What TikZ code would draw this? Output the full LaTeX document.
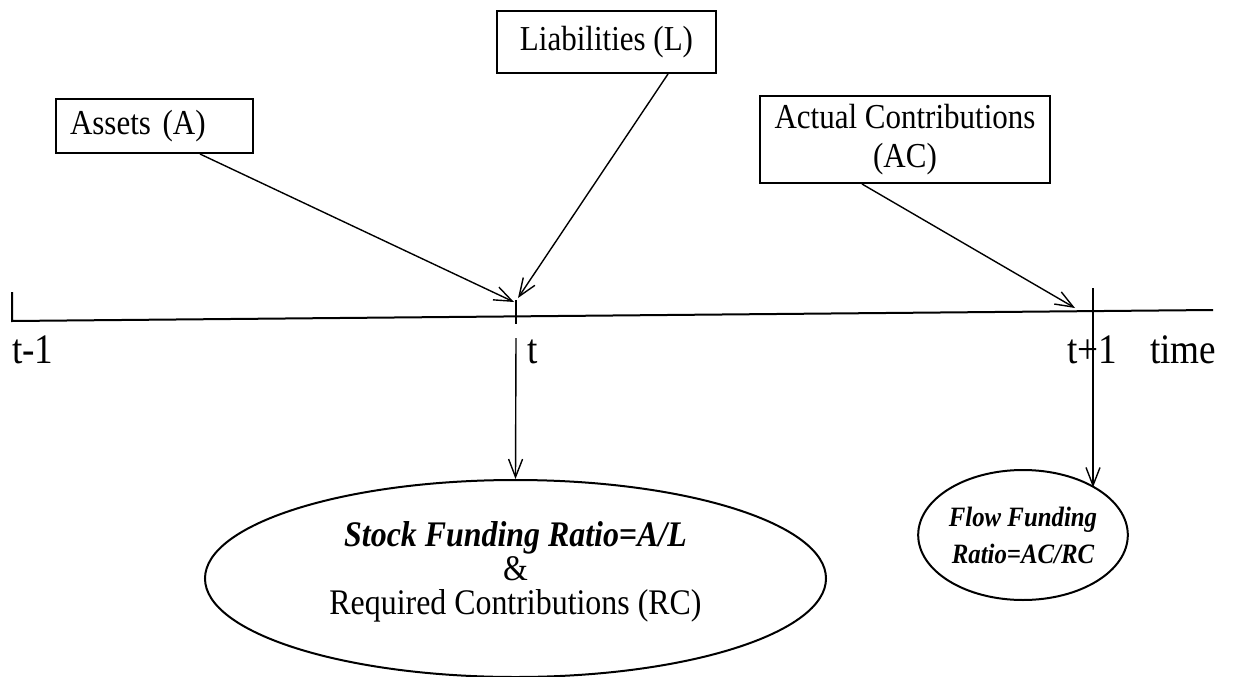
\documentclass[tikz,border=0pt]{standalone}
\usepackage{fontspec}
\setmainfont{Liberation Serif}[FakeStretch=0.886]
\usetikzlibrary{shapes.geometric,arrows.meta}
\begin{document}
\begin{tikzpicture}[x=1pt,y=-1pt,
  txt/.style={font=\fontsize{35}{39}\selectfont},
  box/.style={txt, draw, line width=2pt, inner sep=0pt, align=center},
  oval/.style={draw, ellipse, line width=2pt, inner sep=0pt, align=center},
  axisline/.style={line width=2pt},
  conn/.style={line width=1.4pt, -{Straight Barb[length=18pt,width=14pt,line width=1.4pt]}},
  lab/.style={font=\fontsize{42}{44}\selectfont, inner sep=0pt, anchor=base west}]
\useasboundingbox (0,0) rectangle (1242,677);
% boxes
\node[box, minimum width=197pt, minimum height=54pt, text width=169pt, inner xsep=14pt, align=left] (assets) at (154.5,126) {Assets (A)};
\node[box, minimum width=219pt, minimum height=62pt] (liab) at (606.5,42) {Liabilities (L)};
\node[box, minimum width=290pt, minimum height=87pt] (actual) at (905,139.5) {Actual Contributions\\(AC)};
% timeline
\coordinate (a0) at (12,321);
\coordinate (a1) at (1213,310);
\coordinate (l0) at (12,292);
\coordinate (tt) at (516,300);
\coordinate (tb) at (516,324);
\coordinate (t1top) at (1093,288);
\draw[axisline] (l0) -- (a0) -- (a1);
\draw[line width=1.5pt] (tt) -- (tb);
% labels
\node[lab] (lm1) at (12,363) {t-1};
\node[lab] (lt) at (527,363) {t};
\node[lab] (lt1) at (1067,363) {t+1};
\node[lab] (ltime) at (1150,363) {time};
% ellipses
\node[oval, minimum width=621pt, minimum height=197pt, text depth=20pt, font=\fontsize{36}{34}\selectfont] (stock) at (515.5,578.5)
  {\textbf{\textit{Stock Funding Ratio=A/L}}\\
   \&\\
   Required Contributions (RC)};
\node[oval, minimum width=200pt, minimum height=130pt, font=\fontsize{28}{37}\selectfont\bfseries\itshape] (flow) at (1023,535)
  {Flow Funding\\Ratio=AC/RC};
% connectors
\coordinate (tarr) at (516,338);
\coordinate (aend) at (514,302);
\coordinate (lend) at (518,298);
\coordinate (acend) at (1075,308);
\draw[conn] (assets.south -| 200,0) -- (aend);
\draw[conn] (liab.south -| 668,0) -- (lend);
\draw[conn] (actual.south -| 862,0) -- (acend);
\draw[conn] (tarr) -- (stock.north);
\draw[conn] (t1top) -- (t1top |- flow.33.5);
\end{tikzpicture}
\end{document}
